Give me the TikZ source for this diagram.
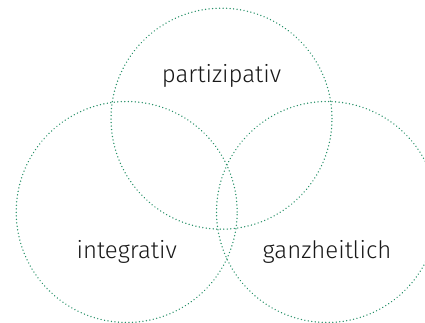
\documentclass[tikz,border=0pt]{standalone}
\usepackage{fontspec}
\setmainfont{Fira Sans Light}
\usepackage{tikz}
\usetikzlibrary{positioning}
\definecolor{venngreen}{RGB}{40,145,105}
\definecolor{labelgray}{RGB}{25,25,25}
\tikzset{
  ring/.style={draw=venngreen, circle, line width=1.5pt, dash pattern=on 0.01pt off 3.5pt, line cap=round, minimum size=221pt, inner sep=0pt},
  ringlabel/.style={font=\fontsize{24}{28}\selectfont, text=labelgray, inner sep=0pt}
}

\begin{document}
\begin{tikzpicture}[x=1pt, y=1pt]
  \useasboundingbox (0,0) rectangle (425,323);
  % three overlapping rings
  \node[ring] (top) at (221.5,204.3) {};
  \node[ring] (left) at (126.7,111) {};
  \node[ring] (right) at (327,111) {};
  % labels inside the rings
  \node[ringlabel, above=43pt of top.center, anchor=center] (p) {partizipativ};
  \node[ringlabel, below=40pt of left.center, anchor=center] (i) {integrativ};
  \node[ringlabel, below=40pt of right.center, anchor=center] (g) {ganzheitlich};
\end{tikzpicture}
\end{document}
